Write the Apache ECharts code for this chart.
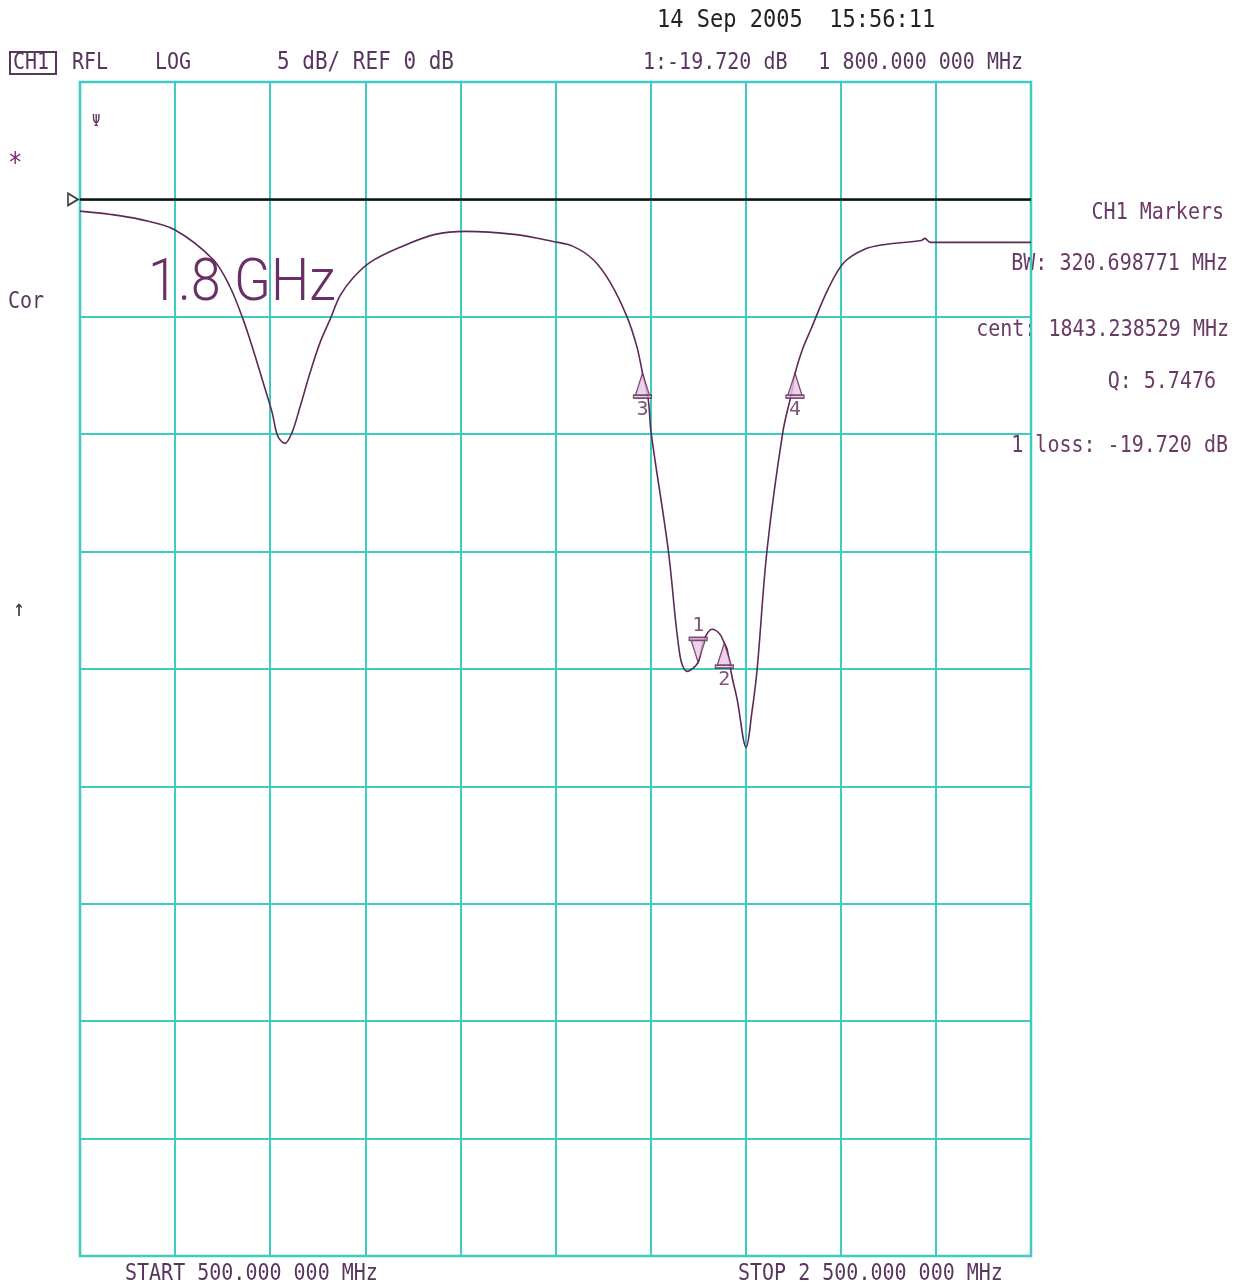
<!DOCTYPE html>
<html>
<head>
<meta charset="utf-8">
<title>CH1 RFL LOG</title>
<script src="https://cdn.jsdelivr.net/npm/echarts@6/dist/echarts.min.js"></script>
<style>
	html, body {
		margin: 0;
		padding: 0;
		background: #fff;
	}

	#chart {
		width: 1237px;
		height: 1284px;
	}
</style>
</head>
<body>
<div id="chart"></div>
<script>
	// trace: frequency (MHz) and reflection (dB)
	const traceFreq = [500, 565, 626, 698, 780, 815, 843, 864, 885, 904, 916, 931, 946, 963, 984, 1005, 1026, 1047, 1074, 1110,
		1173, 1247, 1312, 1413, 1495, 1537, 1579, 1615, 1650, 1671, 1683, 1695, 1701, 1737, 1762, 1777, 1800, 1810, 1829, 1845,
		1855, 1861, 1871, 1882, 1901, 1913, 1924, 1945, 1978, 1997, 2004, 2021, 2037, 2073, 2107, 2149, 2193, 2269, 2277, 2288, 2500
	]
	const traceDb = [-0.5, -0.64, -0.85, -1.28, -2.56, -3.71, -5.11, -6.39, -7.79, -9.07, -10.09, -10.39, -9.92, -8.82, -7.37, -6.09, -5.11, -4.1, -3.35, -2.68,
		-2.04, -1.49, -1.36, -1.49, -1.79, -2.0, -2.56, -3.53, -4.98, -6.26, -7.4, -8.52, -9.92, -14.91, -19.46, -20.1, -19.72, -18.87, -18.31, -18.5,
		-18.9, -19.17, -20.31, -21.29, -23.34, -21.85, -20.02, -14.91, -9.92, -8.2, -7.4, -6.3, -5.54, -3.83, -2.68, -2.13, -1.92, -1.75, -1.66, -1.83, -1.83
	]

	// markers
	const markerNames = ['1', '2', '3', '4']
	const markerFreq = [1800, 1855, 1682.9, 2003.6]
	const markerDb = [-19.72, -18.9, -7.4, -7.4]

	// reference level
	const refDb = 0

	// axes: 500..2500 MHz, 5 dB / div
	const xMin = 500, xMax = 2500, xStep = 200
	const yMin = -45, yMax = 5, yStep = 5

	const gridColor = '#3fcac2'
	const traceColor = '#5c2a58'
	const textColor = '#6a3a66'
	const labelColor = '#5a3560'
	const font = '"DejaVu Sans Mono", "Liberation Mono", monospace'

	const upTri = 'path://M7,0 L14,22 L0,22 Z M-2,22 L16,22 L16,25 L-2,25 Z'
	const downTri = 'path://M-2,0 L16,0 L16,3 L-2,3 Z M0,3 L14,3 L7,25 Z'

	function txt(x, y, s, opt) {
		opt = opt || {}
		return {
			type: 'text',
			x: x,
			y: y,
			scaleY: opt.sy || 1.15,
			silent: true,
			style: {
				text: s,
				font: opt.font || ((opt.size || 20) + 'px ' + font),
				fill: opt.color || textColor,
				textAlign: opt.align || 'left',
				textVerticalAlign: 'middle'
			}
		}
	}

	let myChart = echarts.init(document.getElementById('chart'))
	myChart.setOption({
		animation: false,
		backgroundColor: '#fff',
		grid: {
			left: 80,
			right: 206,
			top: 82,
			bottom: 28,
			show: true,
			borderColor: gridColor,
			borderWidth: 2.5
		},
		xAxis: {
			type: 'value',
			min: xMin,
			max: xMax,
			interval: xStep,
			axisLine: { show: false },
			axisTick: { show: false },
			axisLabel: { show: false },
			splitLine: { lineStyle: { color: gridColor, width: 2 } }
		},
		yAxis: {
			type: 'value',
			min: yMin,
			max: yMax,
			interval: yStep,
			axisLine: { show: false },
			axisTick: { show: false },
			axisLabel: { show: false },
			splitLine: { lineStyle: { color: gridColor, width: 2 } }
		},
		series: [{
				name: 'ref',
				type: 'line',
				data: [[xMin, refDb], [xMax, refDb]],
				symbol: 'none',
				lineStyle: { color: '#111', width: 2.5 },
				z: 3
			},
			{
				name: 'ref mark',
				type: 'scatter',
				data: [[xMin, refDb]],
				symbol: 'path://M0,0 L12,6 L0,12 Z',
				symbolSize: [10, 12],
				symbolOffset: [-7, 0],
				itemStyle: { color: '#fff', borderColor: '#111', borderWidth: 1.8 },
				z: 4
			},
			{
				name: 'CH1',
				type: 'line',
				data: traceFreq.map((f, i) => [f, traceDb[i]]),
				symbol: 'none',
				smooth: 0.35,
				lineStyle: { color: traceColor, width: 1.6 },
				z: 5
			},
			{
				name: 'markers',
				type: 'scatter',
				data: markerFreq.map((f, i) => {
					const active = i === 0
					return {
						value: [f, markerDb[i]],
						name: markerNames[i],
						symbol: active ? downTri : upTri,
						symbolOffset: [0, active ? -12.5 : 12.5],
						label: {
							show: true,
							position: active ? 'top' : 'bottom',
							distance: 1,
							formatter: markerNames[i],
							color: traceColor,
							fontFamily: font,
							fontSize: 20
						}
					}
				}),
				symbolSize: [18, 25],
				itemStyle: { color: '#ecc6e6', borderColor: traceColor, borderWidth: 1.5 },
				z: 6
			}
		],
		graphic: [
			{
				type: 'rect',
				shape: { x: 10, y: 52, width: 46, height: 22 },
				style: { fill: 'none', stroke: labelColor, lineWidth: 2 }
			},
			txt(13, 63, 'CH1', { color: labelColor }),
			txt(72, 63, 'RFL', { color: labelColor }),
			txt(155, 63, 'LOG', { color: labelColor }),
			txt(277, 63, '5 dB/ REF 0 dB', { color: labelColor, size: 21 }),
			txt(657, 20, '14 Sep 2005  15:56:11', { color: '#222', size: 22 }),
			txt(643, 63, '1:-19.720 dB', { color: labelColor }),
			txt(1023, 63, '1 800.000 000 MHz', { color: labelColor, align: 'right' }),
			txt(8, 165, '*', { color: '#7a2a70', size: 24 }),
			txt(92, 122, 'Ψ', { color: labelColor, size: 14 }),
			txt(8, 302, 'Cor', { color: labelColor }),
			txt(13, 610, '↑', { color: '#333', size: 20 }),
			txt(148, 285, '1.8 GHz', { color: '#6a2f66', font: '300 54px Roboto, "DejaVu Sans", sans-serif', sy: 1.1 }),
			txt(1224, 213, 'CH1 Markers', { align: 'right' }),
			txt(1228, 264, 'BW: 320.698771 MHz', { align: 'right' }),
			txt(1229, 330, 'cent: 1843.238529 MHz', { align: 'right' }),
			txt(1216, 382, 'Q: 5.7476', { align: 'right' }),
			txt(1228, 446, '1 loss: -19.720 dB', { align: 'right' }),
			txt(125, 1274, 'START 500.000 000 MHz', { color: labelColor }),
			txt(738, 1274, 'STOP 2 500.000 000 MHz', { color: labelColor })
		]
	})
</script>
</body>
</html>
